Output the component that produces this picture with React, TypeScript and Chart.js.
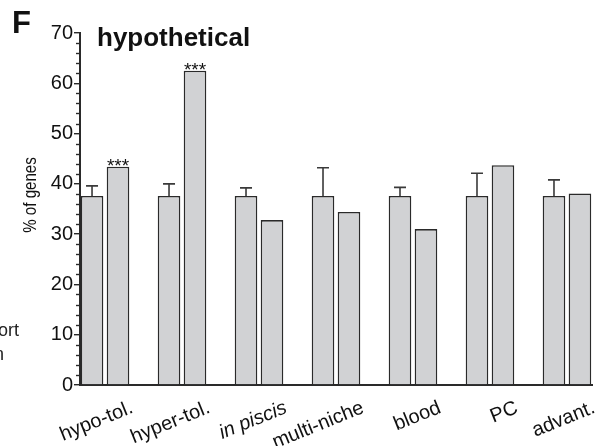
import React, { useEffect, useRef } from 'react';
import { Chart, registerables } from 'chart.js';

Chart.register(...registerables);

const categories = ['hypo-tol.', 'hyper-tol.', 'in piscis', 'multi-niche', 'blood', 'PC', 'advant.'];
const italicCategories = ['in piscis'];
const expectedValues = [37.6, 37.6, 37.6, 37.6, 37.6, 37.6, 37.6];
const expectedErrorTops = [39.6, 40.0, 39.2, 43.2, 39.3, 42.1, 40.8];
const observedValues = [43.4, 62.5, 32.8, 34.4, 31.0, 43.7, 38.1];
const significance = ['***', '***', '', '', '', '', ''];
const yMajorTicks = [0, 10, 20, 30, 40, 50, 60, 70];
const yMinorTicks = [2, 4, 6, 8, 12, 14, 16, 18, 22, 24, 26, 28, 32, 34, 36, 38, 42, 44, 46, 48, 52, 54, 56, 58, 62, 64, 66, 68];
const yTitle = '% of genes';

const FONT = '"Liberation Sans", Arial, Helvetica, sans-serif';
const BAR_FILL = '#d1d2d4';
const BAR_EDGE = '#2a2a2a';
const INK = '#111111';

const decorPlugin = {
  id: 'decor',
  afterDatasetsDraw(chart: any) {
    const ctx = chart.ctx;
    const y = chart.scales.y;
    const metaExp = chart.getDatasetMeta(0);
    const metaObs = chart.getDatasetMeta(1);
    ctx.save();
    // error bars
    ctx.strokeStyle = '#3a3a3a';
    ctx.lineWidth = 1.6;
    metaExp.data.forEach((el: any, i: number) => {
      const top = y.getPixelForValue(expectedErrorTops[i]);
      ctx.beginPath();
      ctx.moveTo(el.x, el.y);
      ctx.lineTo(el.x, top);
      ctx.moveTo(el.x - 6, top);
      ctx.lineTo(el.x + 6, top);
      ctx.stroke();
    });
    // significance stars
    ctx.fillStyle = INK;
    ctx.font = `19px ${FONT}`;
    ctx.textAlign = 'center';
    ctx.textBaseline = 'alphabetic';
    metaObs.data.forEach((el: any, i: number) => {
      if (significance[i]) ctx.fillText(significance[i], el.x, el.y + 5);
    });
    ctx.restore();
  },
  afterDraw(chart: any) {
    const ctx = chart.ctx;
    const y = chart.scales.y;
    const left = chart.chartArea.left;
    ctx.save();
    // minor ticks
    ctx.strokeStyle = '#2a2a2a';
    ctx.lineWidth = 1.4;
    yMinorTicks.forEach((v) => {
      const py = Math.round(y.getPixelForValue(v)) + 0.5;
      ctx.beginPath();
      ctx.moveTo(left - 4, py);
      ctx.lineTo(left, py);
      ctx.stroke();
    });
    // y axis title (slightly condensed, as in the reference)
    ctx.save();
    ctx.fillStyle = INK;
    ctx.font = `18px ${FONT}`;
    ctx.textAlign = 'center';
    ctx.textBaseline = 'middle';
    ctx.translate(31, 195);
    ctx.rotate(-Math.PI / 2);
    ctx.scale(0.84, 1);
    ctx.fillText(yTitle, 0, 0);
    ctx.restore();
    // panel letter & title
    ctx.fillStyle = '#111';
    ctx.textAlign = 'left';
    ctx.textBaseline = 'alphabetic';
    ctx.font = `bold 31px ${FONT}`;
    ctx.fillText('F', 12, 33);
    ctx.font = `bold 26px ${FONT}`;
    ctx.fillText('hypothetical', 97, 46);
    // cut-off text from neighbouring panel
    ctx.font = `18px ${FONT}`;
    ctx.fillStyle = '#222';
    ctx.fillText('ort', -2, 336);
    ctx.fillText('n', -6, 360);
    ctx.restore();
  },
};

export default function App() {
  const canvasRef = useRef<HTMLCanvasElement | null>(null);

  useEffect(() => {
    document.body.style.margin = '0';
    const canvas = canvasRef.current;
    if (!canvas) return;
    const chart = new Chart(canvas, {
      type: 'bar',
      data: {
        datasets: [
          {
            label: 'expected',
            data: expectedValues.map((v, i) => ({ x: i, y: v })),
            backgroundColor: BAR_FILL,
            borderColor: BAR_EDGE,
            borderWidth: 1.6,
          },
          {
            label: 'observed',
            data: observedValues.map((v, i) => ({ x: i, y: v })),
            backgroundColor: BAR_FILL,
            borderColor: BAR_EDGE,
            borderWidth: 1.6,
          },
        ],
      },
      options: {
        animation: false,
        responsive: true,
        maintainAspectRatio: false,
        categoryPercentage: 0.675,
        barPercentage: 0.87,
        layout: { padding: { left: 0, right: 18, top: 33, bottom: 0 } },
        plugins: {
          legend: { display: false },
          tooltip: { enabled: false },
          title: { display: false },
        },
        scales: {
          x: {
            type: 'linear',
            min: -0.325,
            max: 6.325,
            offset: false,
            afterBuildTicks: (s: any) => {
              s.ticks = categories.map((_, i) => ({ value: i }));
            },
            afterFit: (s: any) => {
              s.height = 61;
            },
            grid: { display: false, drawTicks: false, offset: false },
            border: { display: true, color: BAR_EDGE, width: 2 },
            ticks: {
              autoSkip: false,
              minRotation: 22,
              maxRotation: 22,
              labelOffset: 27,
              padding: 11,
              color: INK,
              font: (c: any) => ({
                family: FONT,
                size: 20,
                style: italicCategories.includes(categories[c.index]) ? 'italic' : 'normal',
              }),
              callback: (v: any) => categories[v] ?? '',
            },
          },
          y: {
            min: 0,
            max: 70,
            afterBuildTicks: (s: any) => {
              s.ticks = yMajorTicks.map((v) => ({ value: v }));
            },
            afterFit: (s: any) => {
              s.width = 80;
            },
            grid: {
              drawOnChartArea: false,
              drawTicks: true,
              tickLength: 6,
              color: BAR_EDGE,
              lineWidth: 1.4,
            },
            border: { display: true, color: BAR_EDGE, width: 2 },
            ticks: {
              padding: 1,
              color: INK,
              font: { family: FONT, size: 20 },
            },
            title: { display: false },
          },
        },
      },
      plugins: [decorPlugin],
    } as any);
    return () => chart.destroy();
  }, []);

  return (
    <div style={{ position: 'fixed', left: 0, top: 0, width: 610, height: 446 }}>
      <canvas ref={canvasRef} />
    </div>
  );
}
